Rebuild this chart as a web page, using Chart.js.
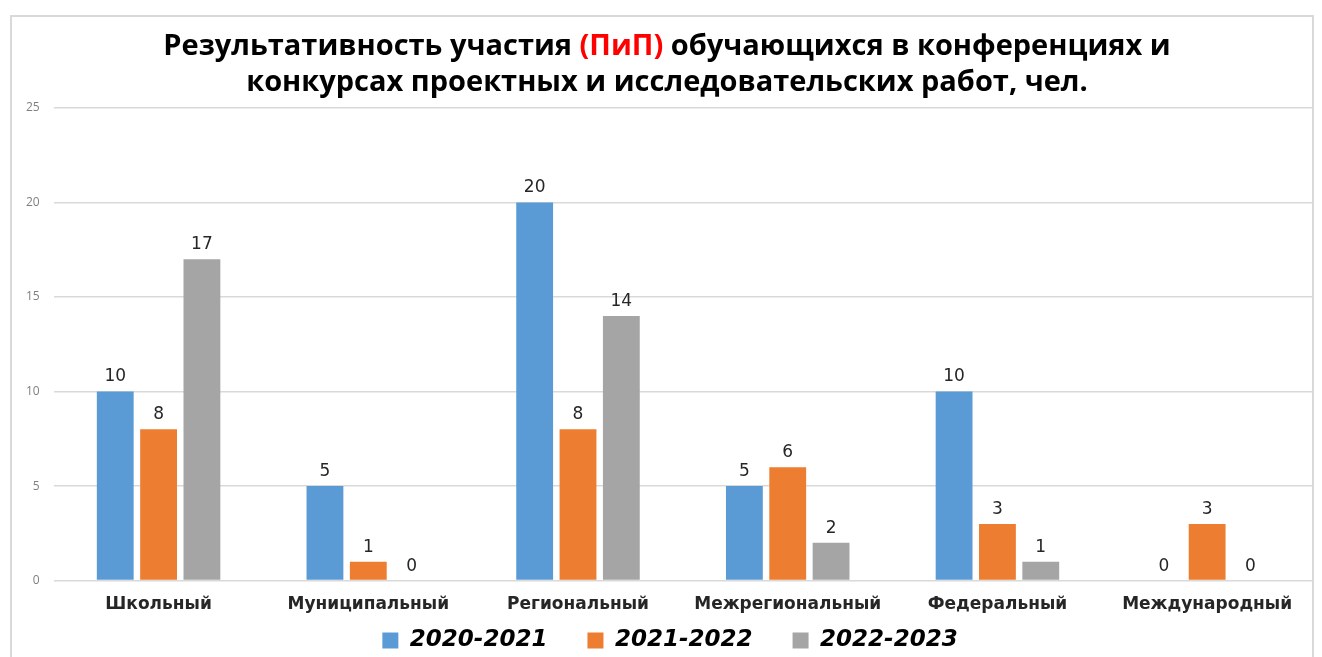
<!DOCTYPE html>
<html lang="ru">
<head>
<meta charset="utf-8">
<script src="https://cdn.jsdelivr.net/npm/chart.js@4/dist/chart.umd.min.js"></script>
<style>
  html, body { margin: 0; padding: 0; background: #fff; }
  body { width: 1322px; height: 657px; position: relative; overflow: hidden; }
  #frame {
    position: absolute; left: 10px; top: 15px; width: 1304px; height: 700px;
    border: 2px solid #d9d9d9; box-sizing: border-box;
  }
  #title {
    position: absolute; left: 6px; top: 26px; width: 1322px; text-align: center;
    font: bold 29px "Open Sans", sans-serif; line-height: 36px; color: #000;
  }
  #title .red { color: #ff0000; }
  #wrap { position: absolute; left: 0; top: 0; width: 1322px; height: 657px; }
</style>
</head>
<body>
<div id="frame"></div>
<div id="wrap"><canvas id="chart"></canvas></div>
<div id="title">Результативность участия <span class="red">(ПиП)</span> обучающихся в конференциях и<br>конкурсах проектных и исследовательских работ, чел.</div>
<script>
// Данные диаграммы
const categories = ['Школьный', 'Муниципальный', 'Региональный', 'Межрегиональный', 'Федеральный', 'Международный'];
const seriesNames = ['2020-2021', '2021-2022', '2022-2023'];
const values2020 = [10, 5, 20, 5, 10, 0];
const values2021 = [8, 1, 8, 6, 3, 3];
const values2022 = [17, 0, 14, 2, 1, 0];
const yTicks = [0, 5, 10, 15, 20, 25];

const colors = ['#5b9bd5', '#ed7d31', '#a5a5a5'];

// Подписи значений над столбцами
const valueLabels = {
    id: 'valueLabels',
    afterDatasetsDraw(chart) {
        const ctx = chart.ctx;
        ctx.save();
        ctx.font = '17px "DejaVu Sans", sans-serif';
        ctx.fillStyle = '#262626';
        ctx.textAlign = 'center';
        ctx.textBaseline = 'bottom';
        chart.data.datasets.forEach((ds, i) => {
            chart.getDatasetMeta(i).data.forEach((bar, j) => {
                ctx.fillText(String(ds.data[j]), bar.x, bar.y - 6);
            });
        });
        ctx.restore();
    },
};

// Легенда чуть правее центра, как в оригинале
const legendShift = {
    id: 'legendShift',
    afterLayout(chart) {
        if (!chart.legend) return;
        chart.legend.left += 8;
        chart.legend.right += 8;
    },
};

new Chart(document.getElementById('chart'), {
    type: 'bar',
    data: {
        labels: categories,
        datasets: [values2020, values2021, values2022].map((v, i) => ({
            label: seriesNames[i],
            data: v,
            backgroundColor: colors[i],
            barPercentage: 0.85,
            categoryPercentage: 0.62,
        })),
    },
    options: {
        responsive: true,
        maintainAspectRatio: false,
        animation: false,
        layout: { padding: { top: 108, left: 12, right: 10, bottom: -5 } },
        plugins: {
            legend: {
                position: 'bottom',
                labels: {
                    color: '#000',
                    boxWidth: 16,
                    boxHeight: 16,
                    padding: 8,
                    font: { family: 'DejaVu Sans, sans-serif', size: 23, weight: 'bold', style: 'italic' },
                    // дополнительный отступ между элементами легенды
                    generateLabels: chart => Chart.defaults.plugins.legend.labels.generateLabels(chart)
                        .map((item, i, arr) => ({ ...item, text: i < arr.length - 1 ? item.text + '    ' : item.text })),
                },
            },
            tooltip: { enabled: false },
        },
        scales: {
            x: {
                grid: { display: false },
                border: { display: false },
                ticks: {
                    color: '#262626',
                    padding: 6,
                    font: { family: 'DejaVu Sans, sans-serif', size: 17, weight: 'bold' },
                },
            },
            y: {
                min: 0,
                max: 25,
                afterBuildTicks: axis => { axis.ticks = yTicks.map(v => ({ value: v })); },
                grid: { color: '#d9d9d9', lineWidth: 1.5, drawTicks: false },
                border: { display: false },
                ticks: {
                    color: '#7f7f7f',
                    padding: 14,
                    font: { family: 'Open Sans, sans-serif', size: 12 },
                },
            },
        },
    },
    plugins: [valueLabels, legendShift],
});
</script>
</body>
</html>
